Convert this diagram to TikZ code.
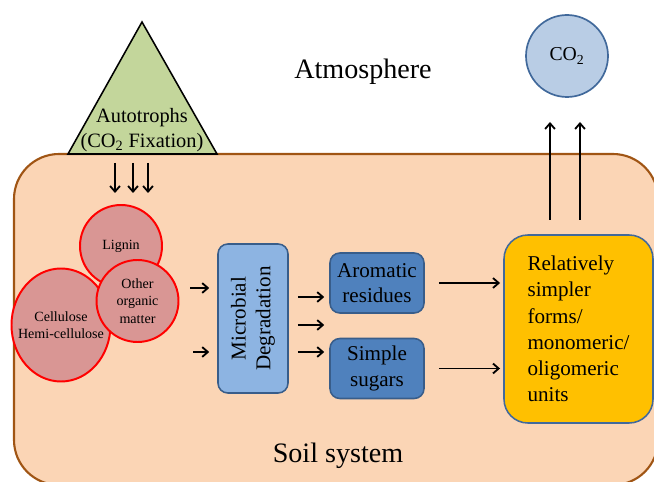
\documentclass[tikz,border=0pt]{standalone}
\usepackage{fontspec}
\setmainfont{Liberation Serif}
\usetikzlibrary{arrows.meta, positioning, shapes.geometric}
\definecolor{SoilF}{RGB}{251,213,181}
\definecolor{SoilD}{RGB}{160,85,20}
\definecolor{TriG}{RGB}{195,214,155}
\definecolor{CoB}{RGB}{185,205,229}
\definecolor{CoD}{RGB}{65,105,155}
\definecolor{OrgR}{RGB}{217,150,148}
\definecolor{MicB}{RGB}{141,180,226}
\definecolor{ProdB}{RGB}{79,129,189}
\definecolor{EdgeB}{RGB}{56,93,138}
\definecolor{UnitY}{RGB}{255,192,0}

\begin{document}
\begin{tikzpicture}[
  big/.style={font=\fontsize{20}{24}\selectfont},
  org/.style={draw=red, line width=1.4pt, fill=OrgR, inner sep=0pt,
              align=center, font=\fontsize{10}{12.5}\selectfont},
  box/.style={draw=EdgeB, line width=1.1pt, rounded corners=7pt, fill=#1,
              align=center, font=\fontsize{15}{18}\selectfont},
  arr/.style={-{Straight Barb[length=4pt,width=7pt]}, line width=1.3pt}
]
\useasboundingbox (0,0) rectangle (16.35,-12.05);
\clip (0,0) rectangle (16.35,-12.05);

% Soil and atmosphere
\draw[draw=SoilD, fill=SoilF, line width=1.5pt, rounded corners=1.125cm]
  (0.35,-3.85) rectangle (16.45,-12.125);
\node[big] (atm)  at (9.075,-1.8)  {Atmosphere};
\node[big] (soil) at (8.45,-11.39) {Soil system};

% Autotrophs
\draw[fill=TriG, line width=1.1pt, line join=miter]
  (1.7,-3.85) -- (3.55,-0.55) -- (5.425,-3.85) -- cycle;
\node[align=center, font=\fontsize{14.5}{17.6}\selectfont] (autotxt) at (3.55,-3.25)
  {Autotrophs\\(CO\textsubscript{2} Fixation)};
\foreach \x [count=\i] in {2.875,3.325,3.7} {
  \coordinate (fxa\i) at (\x,-4.075);
  \coordinate (fxb\i) at (\x,-4.825);
  \draw[arr] (fxa\i) -- (fxb\i);
}

% Organic inputs
\node[org, circle, minimum size=2.05cm] (lignin) at (3.025,-6.15) {Lignin};
\node[org, ellipse, minimum width=2.475cm, minimum height=2.825cm,
      label={[align=center, font=\fontsize{10}{12.5}\selectfont]center:Cellulose\\Hemi-cellulose}]
  (cellu) at (1.525,-8.125) {};
\node[org, circle, minimum size=2.05cm] (other) at (3.4375,-7.525) {Other\\organic\\matter};

% Degradation
\node[box=MicB, minimum width=1.75cm, minimum height=3.725cm] (micro) at (6.325,-7.9625) {};
\node[rotate=90, align=center, font=\fontsize{15}{17.7}\selectfont] (microtxt) at (micro)
  {Microbial\\Degradation};
\coordinate (in1) at (4.75,-7.2);
\coordinate (in2) at (4.825,-8.8);
\draw[arr, shorten >=0.2cm] (in1) -- (in1 -| micro.west);
\draw[arr, shorten >=0.2cm] (in2) -- (in2 -| micro.west);

% Products
\node[box=ProdB, minimum width=2.35cm, minimum height=1.5cm] (arom)  at (9.425,-7.075) {Aromatic\\residues};
\node[box=ProdB, minimum width=2.35cm, minimum height=1.5cm] (sugar) at (9.425,-9.2125) {Simple\\sugars};
\foreach \y [count=\i] in {-7.425,-8.125,-8.8} {
  \coordinate (out\i) at (7.2,\y);
  \draw[arr, shorten <=0.225cm, shorten >=0.125cm] (out\i -| micro.east) -- (out\i -| arom.west);
}

% Simpler units
\node[box=UnitY, draw=CoD, rounded corners=17pt, minimum width=3.725cm, minimum height=4.7cm,
      align=left, font=\fontsize{15}{18.6}\selectfont] (units) at (14.4625,-8.225)
  {Relatively\\simpler\\forms/\\monomeric/\\oligomeric\\units};
\draw[arr, shorten <=0.35cm, shorten >=0.08cm] (arom.east) -- (arom.east -| units.west);
\draw[arr, shorten <=0.35cm, shorten >=0.08cm] (sugar.east) -- (sugar.east -| units.west);

% CO2 release
\node[circle, draw=CoD, fill=CoB, line width=1.2pt, minimum size=2.05cm,
      font=\fontsize{14}{16}\selectfont] (co2) at (14.175,-1.4) {CO\textsubscript{2}};
\coordinate (up1) at (13.75,-5.5);
\coordinate (up2) at (14.5,-5.5);
\draw[arr] (up1) -- ++(0,2.45);
\draw[arr] (up2) -- ++(0,2.45);
\end{tikzpicture}
\end{document}
